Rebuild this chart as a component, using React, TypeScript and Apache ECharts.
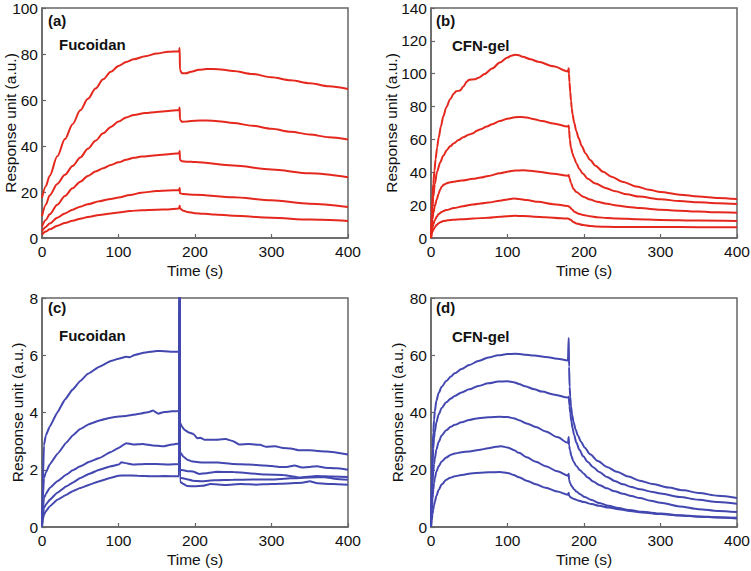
import React, { useEffect, useRef } from 'react';
import * as echarts from 'echarts';

type Pt = [number, number];

const panelLetters = ['(a)', '(b)', '(c)', '(d)'];
const panelNames = ['Fucoidan', 'CFN-gel', 'Fucoidan', 'CFN-gel'];
const yMax = [100, 140, 8, 80];
const yStep = [20, 20, 2, 20];
const xName = 'Time (s)';
const yName = 'Response unit (a.u.)';

// (a) Fucoidan – red
const a1: Pt[] = [[0,17.5],[5,22.5],[10,27],[20,35.5],[30,43],[40,49.5],[50,55.5],[60,60.5],[70,65],[80,69],[90,72.3],[100,74.8],[110,76.5],[120,77.7],[135,79],[150,80.2],[165,81],[179,81.2],[180,82.6],[180.3,73],[183,71.6],[188,71.6],[195,72.3],[205,73.1],[215,73.5],[230,73.4],[250,72.6],[275,71.3],[300,69.9],[325,68.6],[350,67.3],[375,66],[400,64.8]];
const a2: Pt[] = [[0,9.5],[5,14.5],[10,18.5],[20,23.5],[30,27.5],[40,31.3],[50,35],[60,38.8],[70,42.3],[80,45.5],[90,48.3],[100,50.6],[110,52.4],[120,53.5],[135,54.3],[150,54.8],[165,55.2],[179,55.6],[180,56.7],[180.3,51.5],[183,50.5],[190,50.7],[200,51],[215,51.1],[230,50.8],[250,50],[275,48.8],[300,47.5],[325,46.2],[350,45],[375,43.8],[400,42.8]];
const a3: Pt[] = [[0,5],[5,7.8],[10,10.3],[20,14.5],[30,18.3],[40,21.6],[50,24.5],[60,27],[70,28.9],[80,30.3],[90,31.7],[100,32.9],[110,34],[120,34.9],[130,35.4],[150,36],[165,36.4],[179,36.8],[180,37.8],[180.3,34],[183,33.4],[190,33.2],[200,33],[250,31.5],[300,29.8],[350,28.1],[400,26.4]];
const a4: Pt[] = [[0,3],[5,4.8],[10,6.3],[20,8.8],[30,10.7],[40,12.3],[50,13.6],[60,14.7],[75,16],[90,17],[100,17.6],[115,18.7],[130,19.7],[150,20.4],[165,20.7],[179,20.8],[180,21.7],[180.3,19.5],[185,19.1],[200,18.8],[250,17.7],[300,16.4],[350,14.9],[400,13.5]];
const a5: Pt[] = [[0,1.5],[5,2.8],[10,3.8],[20,5.3],[30,6.5],[40,7.5],[50,8.4],[60,9.1],[75,10],[90,10.7],[100,11.1],[115,11.7],[130,12.1],[150,12.3],[165,12.4],[179,12.8],[180,14],[180.3,12.8],[185,11.8],[190,11.3],[200,10.8],[225,10.2],[250,9.7],[300,8.8],[350,8],[400,7.4]];

// (b) CFN-gel – red
const b1: Pt[] = [[0,0],[1,16],[2,26],[3,33],[4.5,41],[6,48],[8,55],[10,61],[13,68],[16,74],[20,79.5],[25,84.5],[30,88],[33,89.3],[38,89.8],[42,92],[47,95.3],[50,96.4],[57,96.6],[62,97.5],[70,99.8],[80,103.2],[90,106.8],[100,109.8],[105,111],[110,111.5],[115,111.2],[120,110.3],[130,108.8],[140,107.3],[160,104.5],[179,101.4],[180,103.3],[180.3,100],[181,95],[182,89],[183,83.5],[184,79],[185,75.5],[187,70.5],[190,65],[193,60.8],[197,56],[202,51.5],[208,47.5],[215,44],[225,40.3],[236,37.3],[250,34.3],[269,31.3],[285,29.4],[300,28],[325,26.4],[350,25.3],[375,24.4],[400,23.7]];
const b2: Pt[] = [[0,0],[1,11],[2,19],[3,25],[5,33],[8,40.5],[12,46],[16,50],[20.5,53.4],[25,55.8],[30,57.7],[36,59.6],[42,61.3],[50,63],[55,63.8],[60,65.3],[65,66.2],[73,67.8],[80,69.3],[90,71.2],[100,72.6],[110,73.5],[118,73.7],[125,73.3],[135,72.3],[145,71.2],[160,69.7],[179,67.8],[180,68.5],[180.5,66],[181.4,60],[183,55],[185,51.5],[187,48.8],[190,45.5],[194,42],[198,39.4],[205,36],[215,33.2],[228,30.5],[241,28.4],[256,26.6],[272,25.2],[300,23.6],[325,22.5],[350,21.7],[375,21.1],[400,20.7]];
const b3: Pt[] = [[0,0],[1,7],[2,11.5],[3,15],[5,19.5],[7.5,23.5],[10,27],[12,29.5],[14,31.2],[17,32.5],[20.5,33.3],[25,33.9],[30,34.3],[40,35],[55,36],[65,36.8],[75,37.8],[90,39.4],[100,40.4],[110,41.1],[120,41.2],[130,40.9],[140,40.4],[160,39.1],[179,37.9],[180,38.3],[181,36.5],[183,33.5],[186,30],[190,28],[199,25.1],[208,23.4],[217,22.1],[230,20.8],[243,19.8],[258,18.9],[273,18.2],[300,17.2],[325,16.6],[350,16.1],[375,15.7],[400,15.4]];
const b4: Pt[] = [[0,0],[1,4],[2,6.5],[3,8.3],[5,10.8],[7.5,13],[10,14.6],[14,15.9],[20,17],[30,18.2],[42,19.4],[55,20.4],[65,21],[75,21.6],[90,22.7],[100,23.5],[108,24],[115,23.8],[125,23.1],[140,22],[160,20.6],[179,19.5],[181,19],[184,17.5],[188,15.8],[193,14.8],[199,14],[208,13.2],[217,12.6],[230,12.2],[243,11.9],[270,11.4],[300,11],[350,10.6],[400,10.3]];
const b5: Pt[] = [[0,0],[1,2.5],[2,4],[3,5],[5,6.5],[7.5,8],[10,9],[13,9.8],[16,10.3],[22,10.8],[29,11.1],[40,11.4],[55,11.8],[75,12.4],[90,13],[100,13.3],[110,13.5],[120,13.4],[135,13],[150,12.6],[170,12],[179,11.8],[182,11.2],[186,9.8],[190,8.9],[199,7.9],[208,7.3],[217,7],[230,6.8],[250,6.7],[300,6.7],[350,6.6],[400,6.6]];

// (c) Fucoidan – blue
const c1: Pt[] = [[0,0.1],[1,1.5],[2.5,2.85],[5,3.2],[10,3.5],[20,4.0],[30,4.45],[40,4.8],[50,5.1],[60,5.35],[75,5.6],[90,5.8],[100,5.88],[110,5.95],[115,5.93],[120,6.0],[135,6.1],[150,6.15],[160,6.14],[170,6.12],[179,6.12],[180,9],[180.4,3.65],[183,3.5],[187,3.38],[192,3.3],[198,3.25],[203,3.1],[207,3.12],[212,3.05],[225,3.05],[240,3.07],[250,3.0],[258,2.88],[270,2.9],[285,2.87],[293,2.8],[305,2.82],[315,2.76],[325,2.74],[337,2.68],[350,2.68],[365,2.65],[380,2.62],[400,2.53]];
const c2: Pt[] = [[0,0.1],[1,1.0],[2.5,1.7],[5,1.9],[10,2.18],[20,2.55],[32,2.95],[40,3.2],[50,3.42],[62,3.6],[75,3.72],[90,3.82],[100,3.86],[110,3.88],[128,3.96],[140,4.02],[145,4.07],[152,3.96],[160,4.02],[170,4.04],[179,4.05],[180,9],[180.4,2.62],[185,2.45],[190,2.35],[195,2.3],[200,2.28],[210,2.25],[230,2.25],[250,2.2],[270,2.18],[290,2.15],[300,2.13],[310,2.1],[320,2.1],[330,2.15],[340,2.08],[350,2.1],[360,2.12],[370,2.07],[385,2.05],[400,2.0]];
const c3: Pt[] = [[0,0.1],[1,0.6],[2.5,1.0],[5,1.15],[10,1.36],[20,1.6],[32,1.83],[40,1.98],[50,2.12],[62,2.28],[75,2.41],[90,2.62],[100,2.76],[110,2.93],[119,2.88],[132,2.9],[145,2.85],[158,2.82],[170,2.88],[179,2.92],[180,9],[180.4,2.0],[185,1.98],[190,1.95],[197,1.94],[206,1.85],[215,1.88],[228,1.93],[250,1.92],[270,1.88],[293,1.83],[315,1.82],[337,1.73],[359,1.78],[380,1.76],[400,1.75]];
const c4: Pt[] = [[0,0.05],[1,0.4],[2.5,0.66],[5,0.78],[10,0.95],[20,1.2],[32,1.42],[40,1.55],[50,1.71],[62,1.86],[75,2.0],[90,2.12],[100,2.18],[104,2.26],[112,2.22],[119,2.18],[135,2.2],[150,2.2],[165,2.18],[179,2.2],[180,9],[180.4,1.72],[188,1.68],[197,1.62],[210,1.6],[225,1.63],[250,1.65],[275,1.66],[300,1.66],[325,1.7],[350,1.73],[370,1.74],[385,1.68],[400,1.65]];
const c5: Pt[] = [[0,0],[1,0.25],[2.5,0.43],[5,0.55],[10,0.72],[20,0.95],[32,1.13],[40,1.25],[50,1.36],[62,1.48],[75,1.6],[90,1.72],[100,1.79],[110,1.8],[125,1.79],[145,1.77],[160,1.78],[179,1.77],[180,9],[180.4,1.58],[185,1.5],[190,1.43],[200,1.42],[210,1.44],[220,1.5],[240,1.47],[260,1.5],[280,1.48],[300,1.5],[320,1.52],[340,1.55],[350,1.6],[360,1.53],[380,1.5],[400,1.48]];

// (d) CFN-gel – blue
const d1: Pt[] = [[0,0],[1,18],[2,27],[3,33],[4,37.5],[5,40.5],[7,44],[10,46.8],[14,49],[20,51],[26,52.6],[31,53.7],[40,55.2],[50,56.6],[62,58],[75,59.2],[88,60],[100,60.4],[110,60.5],[120,60.3],[135,59.9],[150,59.4],[165,58.8],[179,58.2],[180,66],[180.5,56],[181.2,49],[182,45.5],[183,42.2],[184.5,39.2],[186.5,36.5],[189,34.1],[192,32],[196,29.8],[201,27.7],[208,25.4],[218,23.1],[230,21],[243,19.3],[258,17.6],[273,16.2],[290,15],[310,13.8],[330,12.8],[350,11.9],[375,10.9],[400,10.1]];
const d2: Pt[] = [[0,0],[1,14],[2,22],[3,27.5],[4,31],[5,33.3],[7,36.5],[10,39.3],[14,41.6],[20,43.6],[26,44.9],[31,45.8],[40,47],[50,48.1],[62,49.3],[75,50.2],[88,50.8],[100,50.9],[108,50.6],[115,50],[123,49.2],[135,48.1],[145,47.3],[160,46.3],[179,45.2],[180,45.5],[181,42.5],[182,40],[183.5,37],[185,34.6],[187,32.2],[190,29.5],[194,27],[199,24.7],[205,22.7],[212,20.9],[220,19.2],[230,17.5],[240,16.1],[251,14.9],[262,14],[273,13.2],[290,12.2],[300,11.7],[325,10.5],[350,9.5],[375,8.7],[400,8.1]];
const d3: Pt[] = [[0,0],[1,10],[2,15.5],[3,19.5],[4,22],[5,24],[7,27],[10,29.7],[14,32],[20,33.8],[26,35],[31,35.7],[40,36.6],[50,37.4],[62,38],[75,38.3],[90,38.5],[100,38.4],[108,38],[115,37.3],[125,36.2],[137,34.9],[150,33.4],[165,31.4],[179,29.4],[180,31.4],[180.5,28.5],[181.7,26.8],[183.5,24.8],[186,23],[190,21.3],[195,19.8],[199,18.8],[205,17.3],[212,15.9],[220,14.7],[230,13.5],[240,12.5],[251,11.6],[262,10.8],[273,10.1],[287,9.2],[300,8.5],[325,7.2],[350,6.2],[375,5.6],[400,5.2]];
const d4: Pt[] = [[0,0],[1,6],[2,10],[3,13],[4,15.3],[5,17],[7,19.3],[10,21.2],[14,22.9],[20,24.3],[26,25.2],[31,25.7],[40,26.1],[50,26.4],[62,26.9],[75,27.5],[85,28],[92,28.2],[100,27.8],[108,26.9],[115,25.9],[125,24.4],[137,22.8],[150,21.2],[165,19.5],[179,17.9],[180,18.6],[180.5,16.5],[182,15.2],[184,14.2],[187,13.2],[190,12.4],[195,11.4],[201,10.5],[210,9.4],[220,8.4],[232,7.4],[245,6.6],[260,5.9],[276,5.3],[300,4.7],[325,4.1],[350,3.7],[375,3.4],[400,3.2]];
const d5: Pt[] = [[0,0],[1,2.5],[2,4.5],[3,6.2],[4,7.6],[5,8.8],[7,10.8],[10,12.9],[14,14.9],[20,16.5],[25,17.2],[31,17.7],[40,18.2],[55,18.8],[75,19.1],[90,19.2],[100,18.9],[108,18.2],[115,17.4],[125,16.2],[137,14.9],[150,13.7],[165,12.4],[179,11.3],[180,12],[180.5,10.9],[183,10.3],[187,9.8],[192,9.3],[200,8.7],[210,8],[220,7.4],[232,6.8],[245,6.2],[260,5.6],[276,5.1],[300,4.5],[325,4],[350,3.6],[375,3.3],[400,3.0]];

const RED = '#e5281d';
const BLUE = '#4347b0';
const AXIS = '#666666';
const FONT = '"Liberation Sans", Arial, sans-serif';

const panelCurves: Pt[][][] = [
  [a1, a2, a3, a4, a5],
  [b1, b2, b3, b4, b5],
  [c1, c2, c3, c4, c5],
  [d1, d2, d3, d4, d5],
];
const panelColors = [RED, RED, BLUE, BLUE];
const panelSmooth = [0.3, 0.3, 0.12, 0.3];

const grids = [
  { left: 42, top: 8, width: 306, height: 230 },
  { left: 431, top: 8, width: 306, height: 230 },
  { left: 42, top: 298, width: 306, height: 229 },
  { left: 431, top: 298, width: 306, height: 229 },
];
const yNameGaps = [24, 32, 17, 26];
const letterPos = [[48, 20], [436, 20], [48, 307], [436, 307]];
const namePos = [[59, 44], [452, 45], [59, 335], [452, 336]];

export default function App() {
  const ref = useRef<HTMLDivElement>(null);
  useEffect(() => {
    const chart = echarts.init(ref.current!, null, { renderer: 'svg' });
    const xAxis = grids.map((_, i) => ({
      type: 'value',
      gridIndex: i,
      min: 0,
      max: 400,
      interval: 100,
      name: xName,
      nameLocation: 'middle',
      nameGap: 24,
      nameMoveOverlap: false,
      nameTextStyle: { fontSize: 15.5, color: '#111', fontFamily: FONT },
      axisLine: { show: true, lineStyle: { color: AXIS, width: 1.5 } },
      axisTick: { show: true, inside: true, length: 4, lineStyle: { color: AXIS, width: 1.2 } },
      axisLabel: { fontSize: 15.5, color: '#111', margin: 5, fontFamily: FONT },
      splitLine: { show: false },
    }));
    const yAxis = grids.map((_, i) => ({
      type: 'value',
      gridIndex: i,
      min: 0,
      max: yMax[i],
      interval: yStep[i],
      name: yName,
      nameLocation: 'middle',
      nameGap: yNameGaps[i],
      nameMoveOverlap: false,
      nameTextStyle: { fontSize: 15.5, color: '#111', fontFamily: FONT },
      axisLine: { show: true, lineStyle: { color: AXIS, width: 1.5 } },
      axisTick: { show: true, inside: true, length: 4, lineStyle: { color: AXIS, width: 1.2 } },
      axisLabel: { fontSize: 15.5, color: '#111', margin: 4, fontFamily: FONT },
      splitLine: { show: false },
    }));
    const series: any[] = [];
    panelCurves.forEach((curves, i) => {
      curves.forEach((data) => {
        series.push({
          type: 'line',
          xAxisIndex: i,
          yAxisIndex: i,
          data,
          showSymbol: false,
          symbol: 'none',
          clip: true,
          smooth: panelSmooth[i],
          smoothMonotone: 'x',
          lineStyle: { color: panelColors[i], width: 2 },
          itemStyle: { color: panelColors[i] },
        });
      });
    });
    const graphic: any[] = [];
    panelLetters.forEach((t, i) => {
      graphic.push({
        type: 'text',
        x: letterPos[i][0],
        y: letterPos[i][1],
        style: { text: t, fill: '#111', font: `bold 15px ${FONT}`, align: 'left', verticalAlign: 'middle' },
      });
      graphic.push({
        type: 'text',
        x: namePos[i][0],
        y: namePos[i][1],
        style: { text: panelNames[i], fill: '#111', font: `bold 15px ${FONT}`, align: 'left', verticalAlign: 'middle' },
      });
    });
    chart.setOption({
      animation: false,
      backgroundColor: '#ffffff',
      grid: grids.map((g) => ({
        ...g,
        show: true,
        borderColor: AXIS,
        borderWidth: 1.5,
        backgroundColor: 'transparent',
        containLabel: false,
        outerBoundsMode: 'none',
      })),
      xAxis,
      yAxis,
      series,
      graphic,
    });
    return () => chart.dispose();
  }, []);
  return <div ref={ref} style={{ position: 'absolute', left: 0, top: 0, width: 751, height: 571 }} />;
}
